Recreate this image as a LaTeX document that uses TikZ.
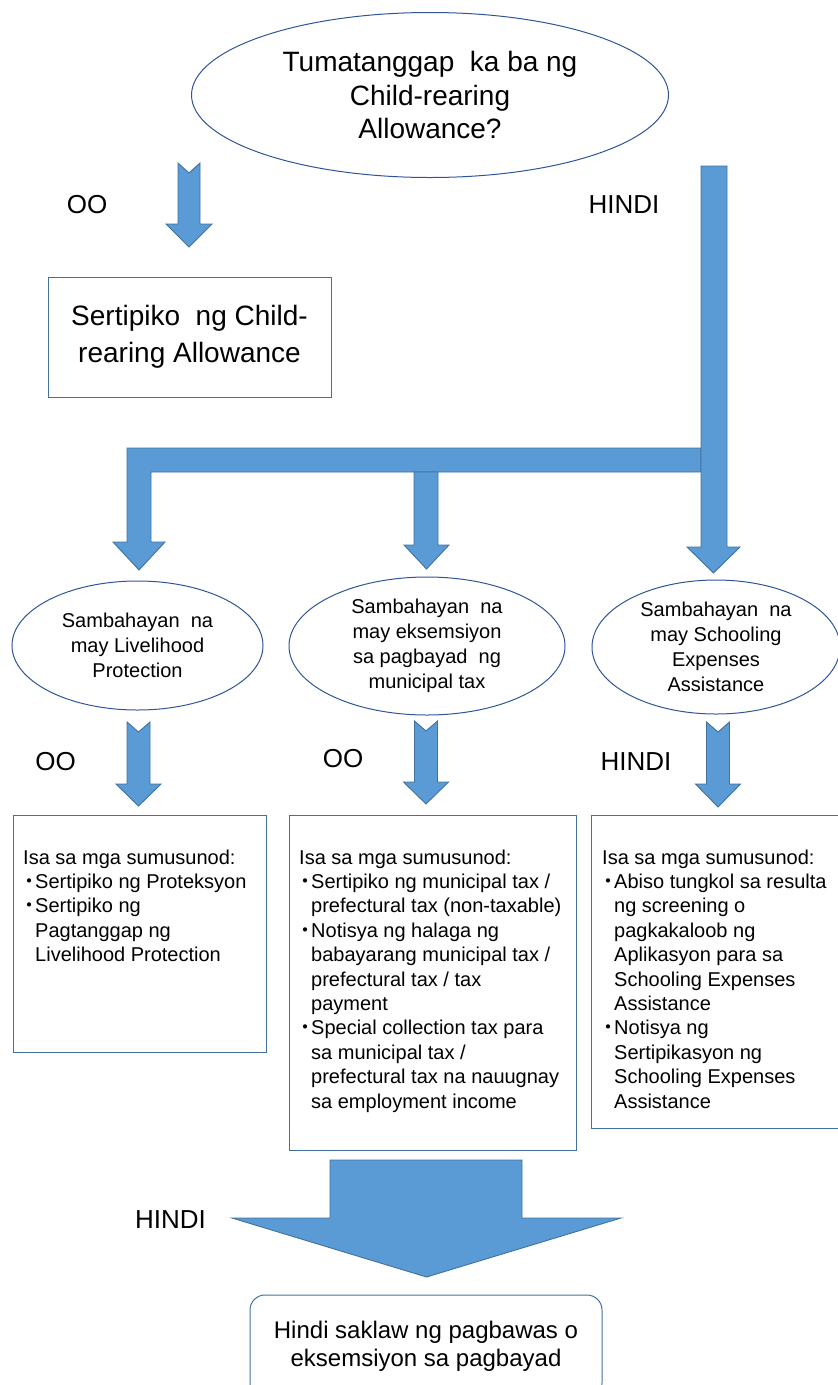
\documentclass[tikz,border=0pt]{standalone}
\usepackage{fontspec}
\setmainfont{Liberation Sans}
\newfontfamily\jpfont{Noto Sans CJK JP}
\usetikzlibrary{shapes.geometric}
\definecolor{arrowblue}{HTML}{5B9BD5}
\definecolor{arrowedge}{HTML}{41719C}
\definecolor{shapeedge}{HTML}{2F5597}
\newcommand{\bl}{\makebox[12pt]{\jpfont ・}}
\newcommand{\ind}{\hspace*{12pt}}
\newcommand{\downblock}[6]{\filldraw[block] (#1-#5,#2) -- (#1,#2+10) -- (#1+#5,#2) -- (#1+#5,#3) -- (#1+#6,#3) -- (#1,#4) -- (#1-#6,#3) -- (#1-#5,#3) -- cycle;}

\begin{document}
\begin{tikzpicture}[x=1pt, y=-1pt,
    block/.style={fill=arrowblue, draw=arrowedge, line width=0.9pt},
    bubble/.style={ellipse, draw=shapeedge, line width=1pt, inner sep=0pt, align=center},
    box/.style={rectangle, draw=arrowedge, line width=1pt, inner sep=0pt},
    lbl/.style={inner sep=0pt, font=\fontsize{26}{30}\selectfont},
    small/.style={font=\fontsize{20}{25}\selectfont},
    listtext/.style={anchor=base west, inner sep=0pt, font=\fontsize{20}{24.4}\selectfont}]

    \useasboundingbox (0,0) rectangle (838,1385);

    \node[bubble, minimum width=477pt, minimum height=165pt, font=\fontsize{28}{33.5}\selectfont] (q) at (430,95) {Tumatanggap~ ka ba ng\\Child-rearing\\Allowance?};
    \node[box, minimum width=283pt, minimum height=120pt, align=center, font=\fontsize{28}{37}\selectfont] (cert) at (189.5,337) {Sertipiko~ ng Child-\\rearing Allowance};

    \node[lbl] (oo1) at (87,205) {OO};
    \node[lbl] (hindi1) at (624,205) {HINDI};

    \downblock{189}{163}{224}{247}{11}{23}

    \filldraw[block] (127,448) -- (701,448) -- (701,472) -- (151,472) -- (151,542) -- (165,542) -- (139,570) -- (113,542) -- (127,542) -- cycle;
    \filldraw[block] (414,472) -- (438,472) -- (438,545) -- (449,545) -- (426.5,569) -- (404,545) -- (414,545) -- cycle;
    \filldraw[block] (701,166) -- (727,166) -- (727,547) -- (740,547) -- (713.5,573) -- (687,547) -- (701,547) -- cycle;

    \node[bubble, small, minimum width=251pt, minimum height=129pt] (lp) at (137.5,645.5) {Sambahayan~ na\\may Livelihood\\Protection};
    \node[bubble, small, minimum width=276pt, minimum height=138pt] (tax) at (427,646) {Sambahayan~ na\\may eksemsiyon\\sa pagbayad~ ng\\municipal tax};
    \node[bubble, small, minimum width=248pt, minimum height=134pt] (sea) at (716,647) {Sambahayan~ na\\may Schooling\\Expenses\\Assistance};

    \downblock{138.5}{722}{784}{806}{11.5}{22.5}
    \downblock{426}{721}{782}{804}{11.5}{22.5}
    \downblock{718}{722}{784}{807}{11.5}{22.5}

    \node[lbl] (oo2) at (55.5,762) {OO};
    \node[lbl] (oo3) at (343,759) {OO};
    \node[lbl] (hindi2) at (636,762) {HINDI};

    \node[box, minimum width=253pt, minimum height=237pt] (lpdocs) at (139.5,933.5) {};
    \node[box, minimum width=287pt, minimum height=335pt] (taxdocs) at (432.5,982.5) {};
    \node[box, minimum width=254pt, minimum height=313pt] (seadocs) at (718,971.5) {};

    \node[listtext] (lplist) at (23,864) {\parbox[t]{240pt}{\raggedright
      Isa sa mga sumusunod:\\
      \bl Sertipiko ng Proteksyon\\
      \bl Sertipiko ng\\
      \ind Pagtanggap ng\\
      \ind Livelihood Protection}};
    \node[listtext] (taxlist) at (299,864) {\parbox[t]{275pt}{\raggedright
      Isa sa mga sumusunod:\\
      \bl Sertipiko ng municipal tax /\\
      \ind prefectural tax (non-taxable)\\
      \bl Notisya ng halaga ng\\
      \ind babayarang municipal tax /\\
      \ind prefectural tax / tax\\
      \ind payment\\
      \bl Special collection tax para\\
      \ind sa municipal tax /\\
      \ind prefectural tax na nauugnay\\
      \ind sa employment income}};
    \node[listtext] (sealist) at (602,864) {\parbox[t]{240pt}{\raggedright
      Isa sa mga sumusunod:\\
      \bl Abiso tungkol sa resulta\\
      \ind ng screening o\\
      \ind pagkakaloob ng\\
      \ind Aplikasyon para sa\\
      \ind Schooling Expenses\\
      \ind Assistance\\
      \bl Notisya ng\\
      \ind Sertipikasyon ng\\
      \ind Schooling Expenses\\
      \ind Assistance}};

    \filldraw[block] (330,1160) -- (522,1160) -- (522,1218) -- (621,1218) -- (426.5,1277) -- (232,1218) -- (330,1218) -- cycle;
    \node[lbl] (hindi3) at (170.5,1220) {HINDI};

    \node[box, rounded corners=15pt, minimum width=352pt, minimum height=103pt, align=center, font=\fontsize{24}{28}\selectfont] (none) at (426,1346.5) {Hindi saklaw ng pagbawas o\\eksemsiyon sa pagbayad};

\end{tikzpicture}
\end{document}
